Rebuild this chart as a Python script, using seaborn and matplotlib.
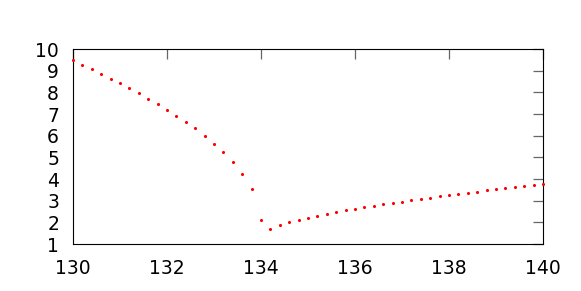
import numpy as np
import pandas as pd
import matplotlib
matplotlib.use("Agg")
import matplotlib.pyplot as plt
import seaborn as sns

# ---- Data ----
x_left = [130.0, 130.2, 130.4, 130.6, 130.8, 131.0, 131.2, 131.4, 131.6, 131.8,
          132.0, 132.2, 132.4, 132.6, 132.8, 133.0, 133.2, 133.4, 133.6, 133.8]
y_left = [9.48, 9.27, 9.06, 8.85, 8.63, 8.41, 8.18, 7.95, 7.71, 7.48,
          7.20, 6.92, 6.65, 6.34, 6.00, 5.63, 5.23, 4.78, 4.25, 3.55]

x_right = [134.0, 134.2, 134.4, 134.6, 134.8, 135.0, 135.2, 135.4, 135.6, 135.8,
           136.0, 136.2, 136.4, 136.6, 136.8, 137.0, 137.2, 137.4, 137.6, 137.8,
           138.0, 138.2, 138.4, 138.6, 138.8, 139.0, 139.2, 139.4, 139.6, 139.8, 140.0]
y_right = [2.09, 1.69, 1.89, 2.02, 2.12, 2.21, 2.31, 2.40, 2.49, 2.55,
           2.63, 2.69, 2.77, 2.83, 2.89, 2.95, 3.02, 3.09, 3.14, 3.20,
           3.26, 3.31, 3.37, 3.41, 3.48, 3.52, 3.57, 3.63, 3.66, 3.72, 3.77]

x_ticks = [130, 132, 134, 136, 138, 140]
y_ticks = [1, 2, 3, 4, 5, 6, 7, 8, 9, 10]

df = pd.DataFrame({"x": x_left + x_right, "y": y_left + y_right})

# ---- Plot ----
sns.set_style("white")
plt.rcParams['font.family'] = ['DejaVu Sans']

fig = plt.figure(figsize=(5.81, 2.91), dpi=100)
ax = fig.add_axes([0.1256, 0.1615, 0.8090, 0.6701])

sns.scatterplot(data=df, x="x", y="y", ax=ax, color="red", marker="o",
                s=5, linewidth=0, clip_on=False, zorder=3)

ax.set_xlim(130, 140)
ax.set_ylim(1, 10)
ax.set_xticks(x_ticks)
ax.set_yticks(y_ticks)
ax.set_xlabel("")
ax.set_ylabel("")

for s in ax.spines.values():
    s.set_visible(True)
    s.set_color("black")
    s.set_linewidth(0.8)

ax.tick_params(axis="both", which="both", direction="in", length=7,
               width=0.9, color="#666666", labelsize=13.5,
               top=True, right=True, labelcolor="black")
ax.tick_params(axis="y", pad=10)
ax.tick_params(axis="x", pad=11)

fig.savefig("out.png", dpi=100)
